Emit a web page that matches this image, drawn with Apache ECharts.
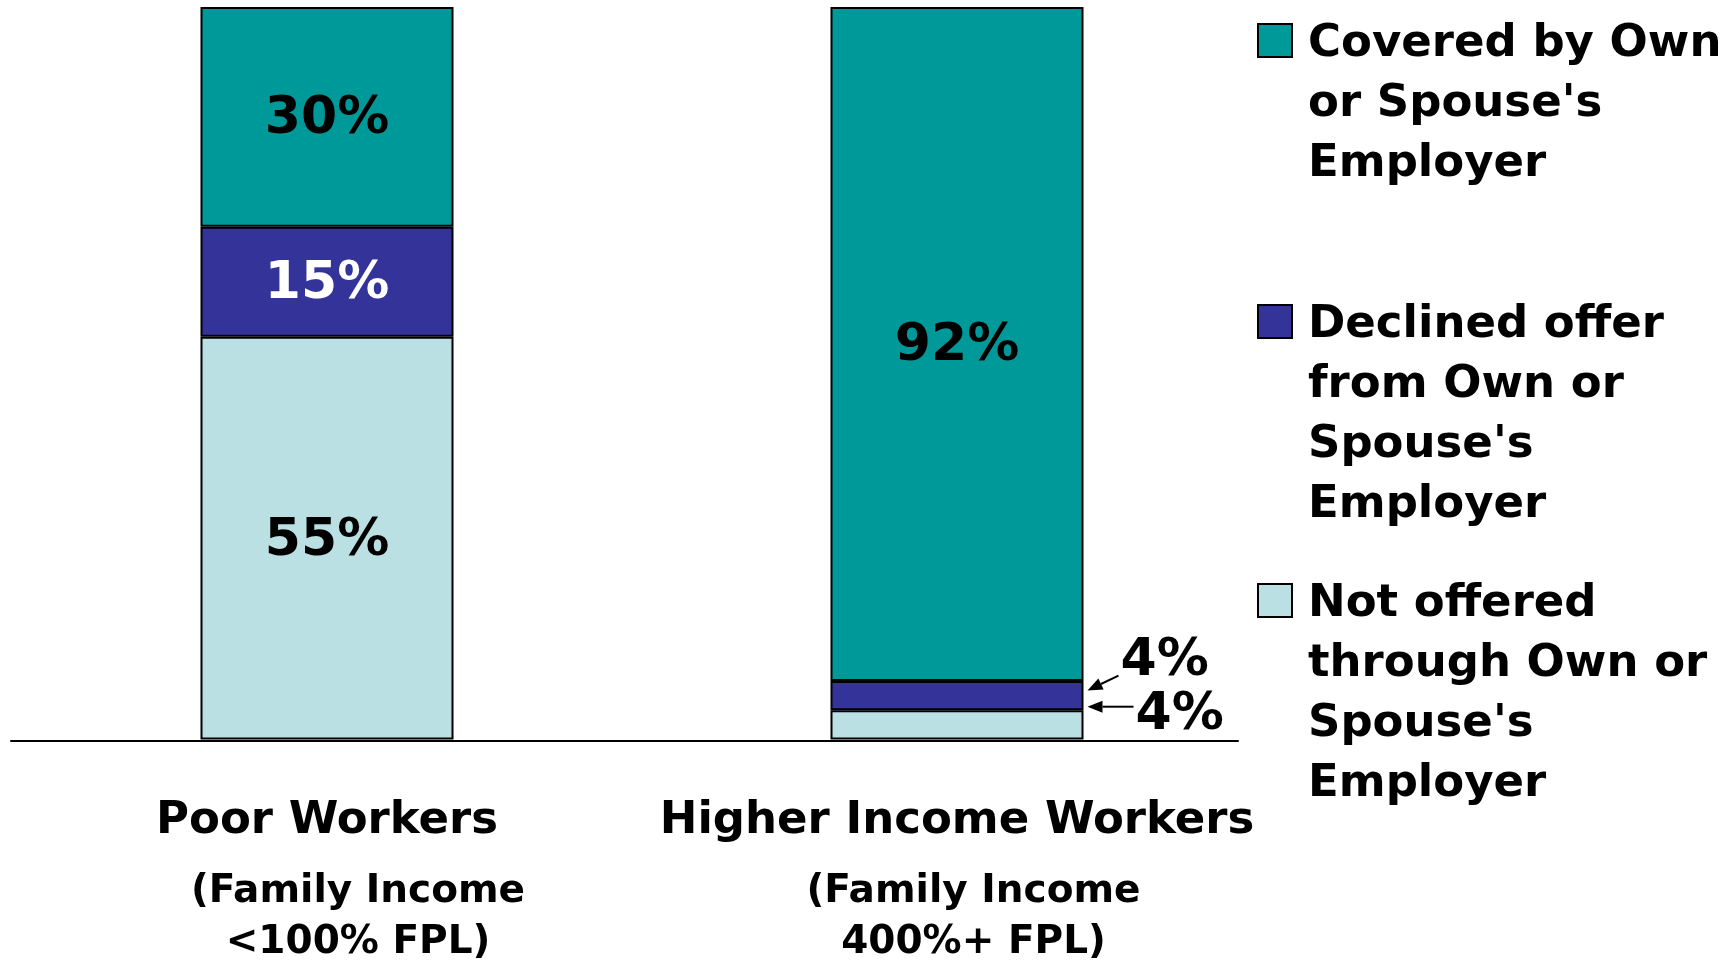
<!DOCTYPE html>
<html>
<head>
<meta charset="utf-8">
<script src="https://cdn.jsdelivr.net/npm/echarts@6/dist/echarts.min.js"></script>
<style>
  html, body { margin: 0; padding: 0; background: #ffffff; }
  #chart { width: 1736px; height: 962px; }
</style>
</head>
<body>
<div id="chart"></div>
<script>
// Worker groups and the income notes printed under each name
const categories = ['Poor Workers', 'Higher Income Workers'];
const categoryNotes = [
  ['(Family Income', '<100% FPL)'],
  ['(Family Income', '400%+ FPL)']
];

// Legend / series names (line breaks as printed)
const nameCovered = "Covered by Own\nor Spouse's\nEmployer";
const nameDeclined = "Declined offer\nfrom Own or\nSpouse's\nEmployer";
const nameNotOffered = "Not offered\nthrough Own or\nSpouse's\nEmployer";

// Shares of workers, percent (bottom to top of each stack)
const notOffered = [55, 4];
const declined = [15, 4];
const covered = [30, 92];

const FONT = 'DejaVu Sans';
const COLORS = { covered: '#009999', declined: '#333399', notOffered: '#BBE0E3' };
const BAR_WIDTH = 253;

const chart = echarts.init(document.getElementById('chart'), null, { renderer: 'canvas' });

const labelBase = {
  show: true,
  position: 'inside',
  offset: [0, 3],
  formatter: '{c}%',
  fontFamily: FONT,
  fontWeight: 'bold',
  fontSize: 52,
  color: '#000'
};

// The thin segments of the second group carry their label outside, right of the bar
function segments(values, outside) {
  return values.map((v, i) => (i === 1 && outside) ? { value: v, label: outside } : v);
}

// Legend icon: a square aligned with the first text line, padded so the text starts after a gap
function legendIcon(lines) {
  const h = lines * 60;
  const c = 26;
  return 'path://M0,' + (c - 16.5) + 'H34V' + (c + 16.5) + 'H0Z M0,0L0,0 M45,' + h + 'L45,' + h;
}

function legendAt(name, lines, top) {
  return {
    data: [{ name: name, icon: legendIcon(lines) }],
    orient: 'vertical',
    left: 1257,
    top: top,
    padding: 0,
    itemWidth: 45,
    itemHeight: lines * 60,
    selectedMode: false,
    itemStyle: { borderColor: '#000', borderWidth: 2 },
    textStyle: {
      fontFamily: FONT,
      fontWeight: 'bold',
      fontSize: 45,
      lineHeight: 60,
      color: '#000'
    }
  };
}

const option = {
  animation: false,
  backgroundColor: '#ffffff',
  grid: [
    // bars and their group labels
    { left: 12, right: 464, top: 7, bottom: 221, containLabel: false },
    // baseline, which stops a little past the second bar
    { left: 11, right: 498, top: 7, bottom: 221, containLabel: false }
  ],
  legend: [
    legendAt(nameCovered, 3, 13.5),
    legendAt(nameDeclined, 4, 294.5),
    legendAt(nameNotOffered, 4, 573.5)
  ],
  xAxis: [
    {
      type: 'category',
      gridIndex: 0,
      data: categories,
      axisLine: { show: false },
      axisTick: { show: false },
      axisLabel: {
        interval: 0,
        margin: 37.5,
        color: '#000',
        formatter: function (value, index) {
          const notes = categoryNotes[index];
          return '{t|' + value + '}\n{s' + index + '|' + notes[0] + '}\n{s' + index + '|' + notes[1] + '}';
        },
        rich: {
          t: { fontFamily: FONT, fontWeight: 'bold', fontSize: 45, lineHeight: 89, color: '#000' },
          s0: { fontFamily: FONT, fontWeight: 'bold', fontSize: 39, lineHeight: 51, color: '#000', padding: [0, 0, 0, 62] },
          s1: { fontFamily: FONT, fontWeight: 'bold', fontSize: 39, lineHeight: 51, color: '#000', padding: [0, 0, 0, 33] }
        }
      }
    },
    {
      type: 'value',
      gridIndex: 1,
      min: 0,
      max: 1,
      splitLine: { show: false },
      axisTick: { show: false },
      axisLabel: { show: false },
      axisLine: { show: true, onZero: false, lineStyle: { color: '#000', width: 2 } }
    }
  ],
  yAxis: [
    { type: 'value', gridIndex: 0, min: 0, max: 100, show: false, splitLine: { show: false } },
    { type: 'value', gridIndex: 1, min: 0, max: 100, show: false, splitLine: { show: false } }
  ],
  series: [
    {
      name: nameNotOffered,
      type: 'bar',
      stack: 'share',
      barWidth: BAR_WIDTH,
      itemStyle: { color: COLORS.notOffered, borderColor: '#000', borderWidth: 2 },
      label: labelBase,
      data: segments(notOffered, { position: 'right', offset: [47, -9] })
    },
    {
      name: nameDeclined,
      type: 'bar',
      stack: 'share',
      barWidth: BAR_WIDTH,
      itemStyle: { color: COLORS.declined, borderColor: '#000', borderWidth: 2 },
      label: Object.assign({}, labelBase, { color: '#ffffff' }),
      data: segments(declined, { position: 'right', offset: [32, -34], color: '#000' })
    },
    {
      name: nameCovered,
      type: 'bar',
      stack: 'share',
      barWidth: BAR_WIDTH,
      itemStyle: { color: COLORS.covered, borderColor: '#000', borderWidth: 2 },
      label: labelBase,
      data: segments(covered, null)
    }
  ]
};

chart.setOption(option);

// Pointer arrows from the outside labels to the thin segments of the second bar
function arrow(tail, tip) {
  const dx = tip[0] - tail[0], dy = tip[1] - tail[1];
  const len = Math.sqrt(dx * dx + dy * dy);
  const ux = dx / len, uy = dy / len;
  const headLen = 15, halfW = 6;
  const base = [tip[0] - ux * headLen, tip[1] - uy * headLen];
  return [
    {
      type: 'polyline',
      shape: { points: [tail, base] },
      style: { stroke: '#000', lineWidth: 2, fill: null },
      silent: true
    },
    {
      type: 'polygon',
      shape: {
        points: [
          tip,
          [base[0] - uy * halfW, base[1] + ux * halfW],
          [base[0] + uy * halfW, base[1] - ux * halfW]
        ]
      },
      style: { fill: '#000' },
      silent: true
    }
  ];
}

const center = chart.convertToPixel({ gridIndex: 0 }, [1, 0]);
const edge = center[0] + BAR_WIDTH / 2;
const yNotOfferedTop = chart.convertToPixel({ gridIndex: 0 }, [1, notOffered[1]])[1];
const yDeclinedMid = chart.convertToPixel({ gridIndex: 0 }, [1, notOffered[1] + declined[1] / 2])[1];

const upper = arrow([edge + 35, yDeclinedMid - 20], [edge + 4, yDeclinedMid - 5]);
const lower = arrow([edge + 50, yNotOfferedTop - 3.5], [edge + 4, yNotOfferedTop - 3.5]);

chart.setOption({ graphic: upper.concat(lower) });
</script>
</body>
</html>
